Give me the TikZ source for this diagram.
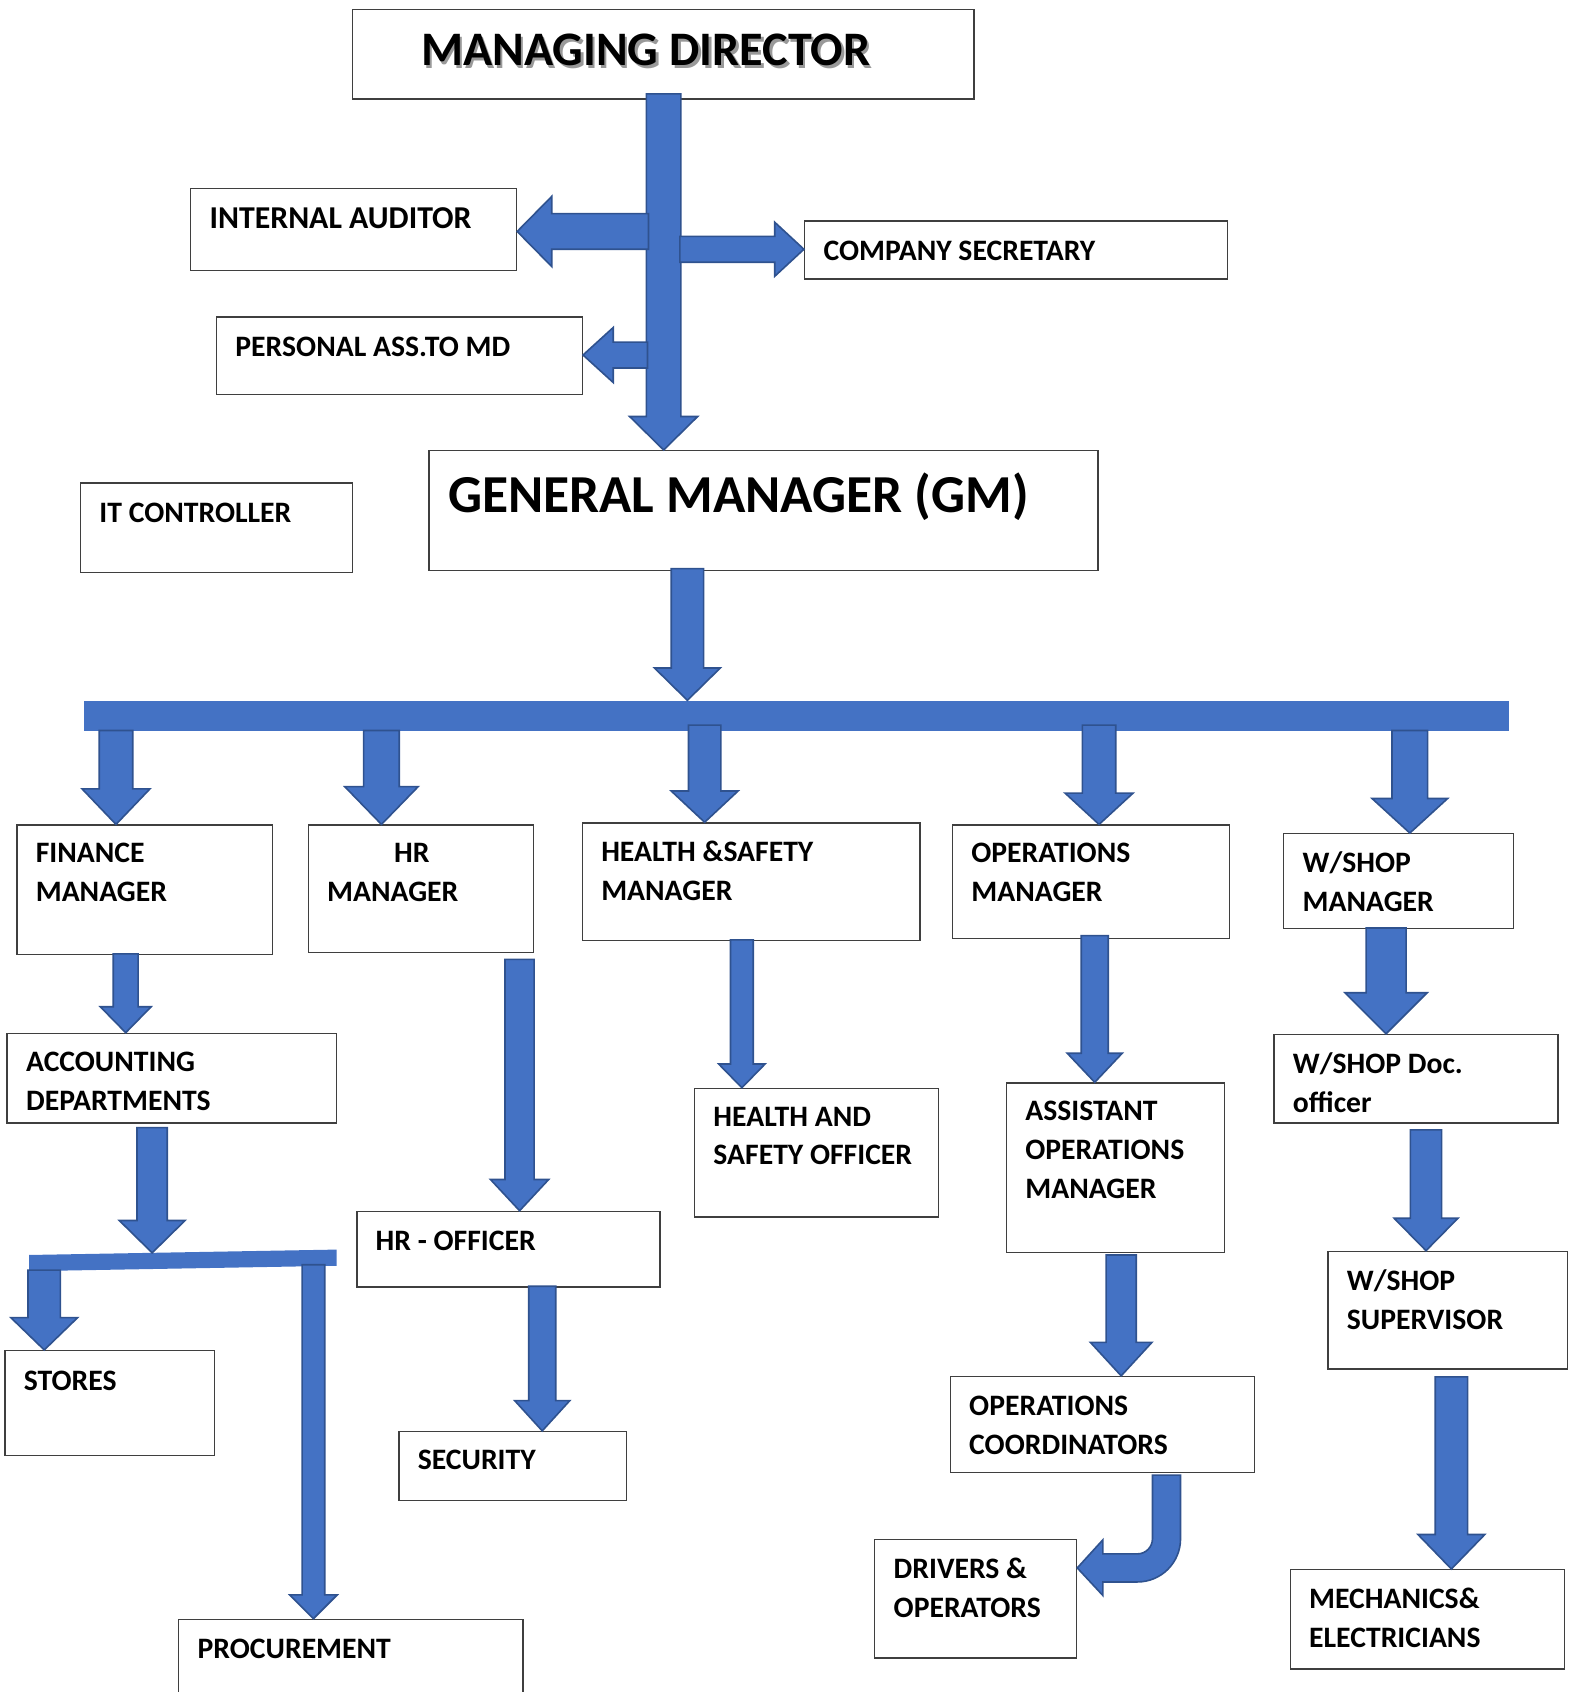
\documentclass[tikz,border=0pt]{standalone}
\usepackage{fontspec}
\setmainfont{Carlito}
\usetikzlibrary{calc}

\definecolor{arrowfill}{HTML}{4472C4}
\definecolor{arrowline}{HTML}{2F528F}
\definecolor{boxline}{HTML}{3F3F3F}

\tikzset{
  box/.style={draw=boxline, line width=1.3pt, anchor=north west, inner sep=0pt},
  lbl/.style={anchor=north west, inner sep=0pt, align=left, xshift=18pt, yshift=-14pt,
    font=\bfseries\fontsize{27.5}{36}\selectfont, execute at begin node={\rule{0pt}{23pt}}},
  lbl2/.style={lbl, yshift=-3.5pt},
  mdfont/.style={font=\bfseries\fontsize{44.6}{50}\selectfont, execute at begin node={\rule{0pt}{35pt}}},
  gmfont/.style={font=\bfseries\fontsize{49.5}{56}\selectfont, execute at begin node={\rule{0pt}{39pt}}},
  barrow/.style={fill=arrowfill, draw=arrowline, line width=1.5pt},
  bus/.style={fill=arrowfill, inner sep=0pt, anchor=north west},
}

% block arrows: #1 start, #2 target, #3 half shaft, #4 half head, #5 head length
\newcommand{\darrow}[5]{%
  \filldraw[barrow] ($(#1)+(-#3,0)$) -- ($(#1|-#2)+(-#3,-#5)$) -- ($(#1|-#2)+(-#4,-#5)$) -- (#1|-#2)
    -- ($(#1|-#2)+(#4,-#5)$) -- ($(#1|-#2)+(#3,-#5)$) -- ($(#1)+(#3,0)$) -- cycle;}
\newcommand{\larrow}[5]{%
  \filldraw[barrow] ($(#1)+(0,-#3)$) -- ($(#2|-#1)+(#5,-#3)$) -- ($(#2|-#1)+(#5,-#4)$) -- (#2|-#1)
    -- ($(#2|-#1)+(#5,#4)$) -- ($(#2|-#1)+(#5,#3)$) -- ($(#1)+(0,#3)$) -- cycle;}
\newcommand{\rarrow}[5]{%
  \filldraw[barrow] ($(#1)+(0,-#3)$) -- ($(#2|-#1)+(-#5,-#3)$) -- ($(#2|-#1)+(-#5,-#4)$) -- (#2|-#1)
    -- ($(#2|-#1)+(-#5,#4)$) -- ($(#2|-#1)+(-#5,#3)$) -- ($(#1)+(0,#3)$) -- cycle;}

\begin{document}
\begin{tikzpicture}[x=1pt, y=-1pt]
  \useasboundingbox (0,0) rectangle (1462,1568);

  % top
  \node[box, minimum width=576pt, minimum height=83pt,
    label={[lbl, mdfont, xshift=48.5pt, yshift=-6pt, text=black!40]north west:MANAGING DIRECTOR},
    label={[lbl, mdfont, xshift=46pt, yshift=-3.5pt]north west:MANAGING DIRECTOR}] (md) at (326,8) {};
  \node[box, minimum width=302pt, minimum height=76pt,
    label={[lbl, yshift=-0.5pt, font=\bfseries\fontsize{29.5}{36}\selectfont]north west:INTERNAL AUDITOR}] (ia) at (176,174) {};
  \node[box, minimum width=392pt, minimum height=54pt,
    label={[lbl]north west:COMPANY SECRETARY}] (cs) at (745,204) {};
  \node[box, minimum width=339pt, minimum height=72pt,
    label={[lbl]north west:PERSONAL ASS.TO MD}] (pa) at (200,293) {};
  \node[box, minimum width=252pt, minimum height=83pt,
    label={[lbl]north west:IT CONTROLLER}] (it) at (74,447) {};
  \node[box, minimum width=620pt, minimum height=111pt,
    label={[lbl, gmfont, yshift=-5pt]north west:GENERAL MANAGER (GM)}] (gm) at (397,417) {};

  % managers
  \node[box, minimum width=237pt, minimum height=120pt,
    label={[lbl2]north west:{FINANCE\\MANAGER}}] (fin) at (15,764) {};
  \node[box, minimum width=209pt, minimum height=118pt,
    label={[lbl2]north west:{\hspace*{62pt}HR\\MANAGER}}] (hr) at (285,764) {};
  \node[box, minimum width=313pt, minimum height=109pt,
    label={[lbl2]north west:{HEALTH \&SAFETY\\MANAGER}}] (hs) at (539,762) {};
  \node[box, minimum width=257pt, minimum height=105pt,
    label={[lbl2]north west:{OPERATIONS\\MANAGER}}] (ops) at (882,764) {};
  \node[box, minimum width=213pt, minimum height=88pt,
    label={[lbl2]north west:{W/SHOP\\MANAGER}}] (ws) at (1189,772) {};

  % lower levels
  \node[box, minimum width=305pt, minimum height=83pt,
    label={[lbl2]north west:{ACCOUNTING\\DEPARTMENTS}}] (acc) at (6,957) {};
  \node[box, minimum width=194pt, minimum height=97pt,
    label={[lbl]north west:STORES}] (sto) at (4,1251) {};
  \node[box, minimum width=319pt, minimum height=90pt,
    label={[lbl]north west:PROCUREMENT}] (proc) at (165,1500) {};
  \node[box, minimum width=281pt, minimum height=70pt,
    label={[lbl]north west:HR - OFFICER}] (hro) at (330,1122) {};
  \node[box, minimum width=211pt, minimum height=64pt,
    label={[lbl, yshift=1.5pt]north west:SECURITY}] (sec) at (369,1326) {};
  \node[box, minimum width=226pt, minimum height=119pt,
    label={[lbl2]north west:{HEALTH AND\\SAFETY OFFICER}}] (hso) at (643,1008) {};
  \node[box, minimum width=202pt, minimum height=157pt,
    label={[lbl2]north west:{ASSISTANT\\OPERATIONS\\MANAGER}}] (aom) at (932,1003) {};
  \node[box, minimum width=282pt, minimum height=89pt,
    label={[lbl2, yshift=-1pt]north west:{OPERATIONS\\COORDINATORS}}] (opc) at (880,1275) {};
  \node[box, minimum width=187pt, minimum height=110pt,
    label={[lbl2]north west:{DRIVERS \&\\OPERATORS}}] (drv) at (810,1426) {};
  \node[box, minimum width=263pt, minimum height=82pt,
    label={[lbl2]north west:{W/SHOP Doc.\\officer}}] (doc) at (1180,958) {};
  \node[box, minimum width=222pt, minimum height=109pt,
    label={[lbl2]north west:{W/SHOP\\SUPERVISOR}}] (sup) at (1230,1159) {};
  \node[box, minimum width=254pt, minimum height=92pt,
    label={[lbl2]north west:{MECHANICS\&\\ELECTRICIANS}}] (mech) at (1195,1454) {};

  % bars
  \node[bus, minimum width=1320pt, minimum height=28pt] (bus) at (78,649) {};
  \fill[arrowfill] (27,1163) -- (312,1158) -- (312,1173) -- (27,1178) -- cycle;
  \coordinate (split) at (141,1161);

  % arrows from MD
  \coordinate (mdout) at (615,87);
  \darrow{mdout}{gm.north}{16}{31.5}{31}
  \coordinate (iaout) at (601,214.5);
  \larrow{iaout}{ia.east}{16.5}{32.5}{32}
  \coordinate (csout) at (630,231);
  \rarrow{csout}{cs.west}{12}{25}{27}
  \coordinate (paout) at (600,329);
  \larrow{paout}{pa.east}{12}{25.5}{28}

  % GM to the bar and down
  \coordinate (gmout) at (637,527);
  \darrow{gmout}{bus.north}{15}{30.5}{30}
  \coordinate (b1) at (107.5,677);
  \darrow{b1}{fin.north}{15.5}{31.5}{33}
  \coordinate (b2) at (353.5,677);
  \darrow{b2}{hr.north}{16.5}{34}{35}
  \coordinate (b3) at (653,672);
  \darrow{b3}{hs.north}{15}{31}{29}
  \coordinate (b4) at (1018.5,672);
  \darrow{b4}{ops.north}{15.5}{31.5}{29}
  \coordinate (b5) at (1306.5,677);
  \darrow{b5}{ws.north}{16.5}{35}{32}

  % finance
  \coordinate (finout) at (116.5,884);
  \darrow{finout}{acc.north}{11.5}{23.5}{24}
  \coordinate (accout) at (141,1045);
  \darrow{accout}{split}{14}{30.5}{30}
  \coordinate (s1) at (41,1177);
  \darrow{s1}{sto.north}{15}{31}{30}
  \coordinate (s2) at (290.5,1172);
  \darrow{s2}{proc.north}{10.5}{22}{22}

  % hr, h&s
  \coordinate (hrout) at (481.5,889);
  \darrow{hrout}{hro.north}{13.5}{27}{29}
  \coordinate (hroout) at (502.5,1192);
  \darrow{hroout}{sec.north}{12.5}{25.5}{28}
  \coordinate (hsout) at (687.5,871);
  \darrow{hsout}{hso.north}{10.5}{21.5}{22}

  % operations
  \coordinate (opsout) at (1014.5,867);
  \darrow{opsout}{aom.north}{12.5}{25.5}{27}
  \coordinate (aomout) at (1039,1163);
  \darrow{aomout}{opc.north}{14}{28.5}{31}
  \coordinate (opcout) at (1081,1367);
  \filldraw[barrow] ($(opcout)+(-13,0)$) -- ($(opcout)+(13,0)$) -- (1094,1426)
    arc[start angle=0, end angle=90, radius=40] -- (1022,1466) -- (1022,1478.5)
    -- (drv.east |- 0,1453) -- (1022,1427) -- (1022,1440) -- (1054,1440)
    arc[start angle=90, end angle=0, radius=14] -- cycle;

  % workshop
  \coordinate (wsout) at (1284.5,860);
  \darrow{wsout}{doc.north}{18.5}{38}{38}
  \coordinate (docout) at (1321.5,1047);
  \darrow{docout}{sup.north}{14.5}{29.5}{30}
  \coordinate (supout) at (1345,1276);
  \darrow{supout}{mech.north}{15}{31}{32}
\end{tikzpicture}
\end{document}
